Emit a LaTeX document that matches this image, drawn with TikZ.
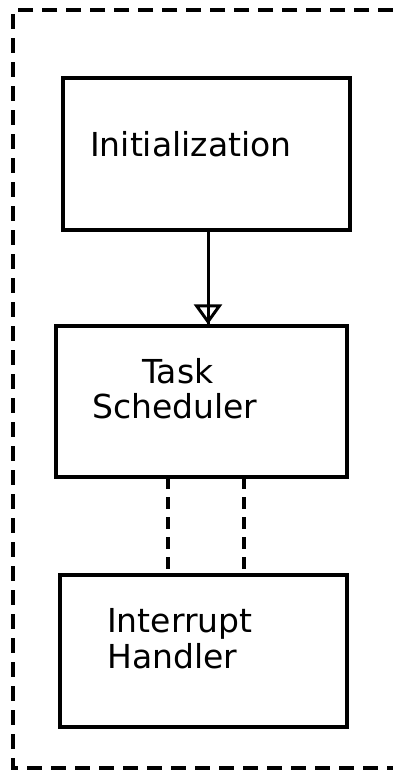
\documentclass[tikz,border=0pt]{standalone}
\usepackage{fontspec}
\newfontfamily\plotfont{DejaVu Sans}
\usetikzlibrary{arrows.meta}
\begin{document}
\begin{tikzpicture}[x=1pt, y=-1pt,
        box/.style={draw, line width=3.4pt, inner sep=0pt},
        word/.style={anchor=base west, inner sep=0pt, font=\plotfont\fontsize{33}{40}\selectfont},
        link/.style={line width=3.2pt, dash pattern=on 12pt off 8pt}]
        \useasboundingbox (0,0) rectangle (393,777);
        \draw [line width=3.6pt, dash pattern=on 15pt off 9pt] (393,10) -- (13,10) -- (13,768) -- (393,768);
        \node [box, minimum width=287pt, minimum height=152pt] (init) at (206.5,154) {};
        \node [box, minimum width=291pt, minimum height=151pt] (sched) at (201.5,401.5) {};
        \node [box, minimum width=287pt, minimum height=152pt] (irq) at (203.5,651) {};
        \node [word] (initTxt) at (90,156) {Initialization};
        \node [word] (taskTxt) at (142,383) {Task};
        \node [word] (schedTxt) at (92,418) {Scheduler};
        \node [word] (irqTxt) at (107,632) {Interrupt};
        \node [word] (handTxt) at (107,668) {Handler};
        \coordinate (a) at (208,230);
        \coordinate (l1) at (168,477);
        \coordinate (l2) at (244,477);
        \draw [line width=3pt] (a) -- (a |- sched.north);
        \draw [line width=3pt, -{Triangle[open, length=20pt, width=28pt, line width=3pt]}] (a) -- (a |- sched.north);
        \draw [link] (l1) -- (l1 |- irq.north);
        \draw [link] (l2) -- (l2 |- irq.north);
    \end{tikzpicture}
\end{document}
